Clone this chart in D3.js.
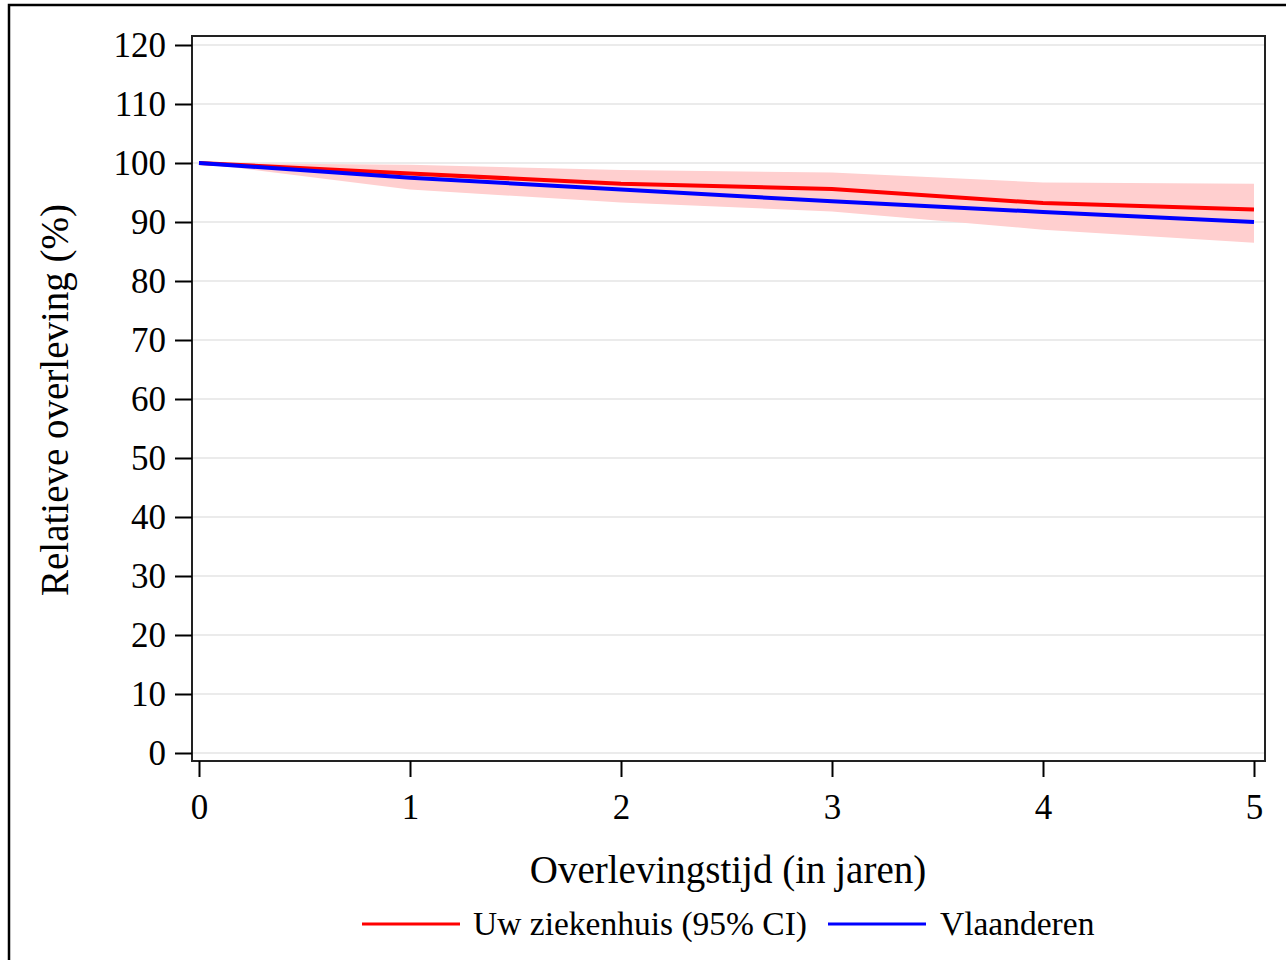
<!DOCTYPE html>
<html><head><meta charset="utf-8">
<script src="https://cdn.jsdelivr.net/npm/d3@7"></script>
<style>
html,body{margin:0;padding:0;background:#fff;}
svg{display:block;font-family:"Liberation Serif","Times New Roman",serif;}
</style></head>
<body><svg id="c" width="1286" height="960"></svg>
<script>
const years = [0, 1, 2, 3, 4, 5];
const hospital = [100, 98.2, 96.5, 95.6, 93.2, 92.1];
const hospitalLower = [100, 95.5, 93.3, 91.8, 88.7, 86.5];
const hospitalUpper = [100, 99.7, 98.8, 98.4, 96.7, 96.5];
const flanders = [100, 97.5, 95.5, 93.5, 91.7, 90.0];
const yTicks = [0,10,20,30,40,50,60,70,80,90,100,110,120];
const xTicks = [0,1,2,3,4,5];
const legendLabels = ["Uw ziekenhuis (95% CI)", "Vlaanderen"];

const svg = d3.select("#c");
svg.append("rect").attr("x",9).attr("y",5).attr("width",1300).attr("height",1000)
  .attr("fill","#fff").attr("stroke","#000").attr("stroke-width",2.5);

const x = d3.scaleLinear().domain([0,5]).range([199,1254]);
const y = d3.scaleLinear().domain([0,120]).range([753,45]);
const frame = {l:192, t:36, r:1265, b:761};

// grid
svg.append("g").selectAll("line").data(yTicks).join("line")
  .attr("x1",frame.l).attr("x2",frame.r).attr("y1",d=>y(d)).attr("y2",d=>y(d))
  .attr("stroke","#ebebeb").attr("stroke-width",2);

// CI band
const area = d3.area().x((d,i)=>x(years[i])).y0((d,i)=>y(hospitalLower[i])).y1((d,i)=>y(hospitalUpper[i]));
svg.append("path").datum(years).attr("d",area).attr("fill","#ffcfcf");

const line = arr => d3.line().x((d,i)=>x(years[i])).y((d,i)=>y(arr[i]));
svg.append("path").datum(years).attr("d",line(hospital)).attr("fill","none").attr("stroke","#ff0000").attr("stroke-width",4);
svg.append("path").datum(years).attr("d",line(flanders)).attr("fill","none").attr("stroke","#0000ff").attr("stroke-width",4);

// frame
svg.append("rect").attr("x",frame.l).attr("y",frame.t).attr("width",frame.r-frame.l).attr("height",frame.b-frame.t)
  .attr("fill","none").attr("stroke","#222").attr("stroke-width",2);

// y axis
const yAxis = d3.axisLeft(y).tickValues(yTicks).tickSize(17).tickPadding(9).tickFormat(d3.format("d"));
const gy = svg.append("g").attr("transform",`translate(${frame.l},0)`).call(yAxis);
gy.select(".domain").remove();
gy.selectAll(".tick line").attr("stroke","#000").attr("stroke-width",2);
gy.selectAll(".tick text").attr("font-size",35).attr("font-family","Liberation Serif").attr("fill","#000").attr("dy","0.34em");

// x axis
const xAxis = d3.axisBottom(x).tickValues(xTicks).tickSize(16).tickPadding(17).tickFormat(d3.format("d"));
const gx = svg.append("g").attr("transform",`translate(0,${frame.b})`).call(xAxis);
gx.select(".domain").remove();
gx.selectAll(".tick line").attr("stroke","#000").attr("stroke-width",2);
gx.selectAll(".tick text").attr("font-size",35).attr("font-family","Liberation Serif").attr("fill","#000");

// titles
svg.append("text").attr("x",728).attr("y",883).attr("text-anchor","middle").attr("font-size",39).text("Overlevingstijd (in jaren)");
svg.append("text").attr("transform","translate(68,400) rotate(-90)").attr("text-anchor","middle").attr("font-size",39).text("Relatieve overleving (%)");

// legend
const leg = [{c:"#ff0000",x1:362,x2:460,tx:473},{c:"#0000ff",x1:828,x2:926,tx:940}];
leg.forEach((l,i)=>{
  svg.append("line").attr("x1",l.x1).attr("x2",l.x2).attr("y1",924).attr("y2",924).attr("stroke",l.c).attr("stroke-width",3);
  svg.append("text").attr("x",l.tx).attr("y",935).attr("font-size",33.5).text(legendLabels[i]);
});
</script></body></html>
